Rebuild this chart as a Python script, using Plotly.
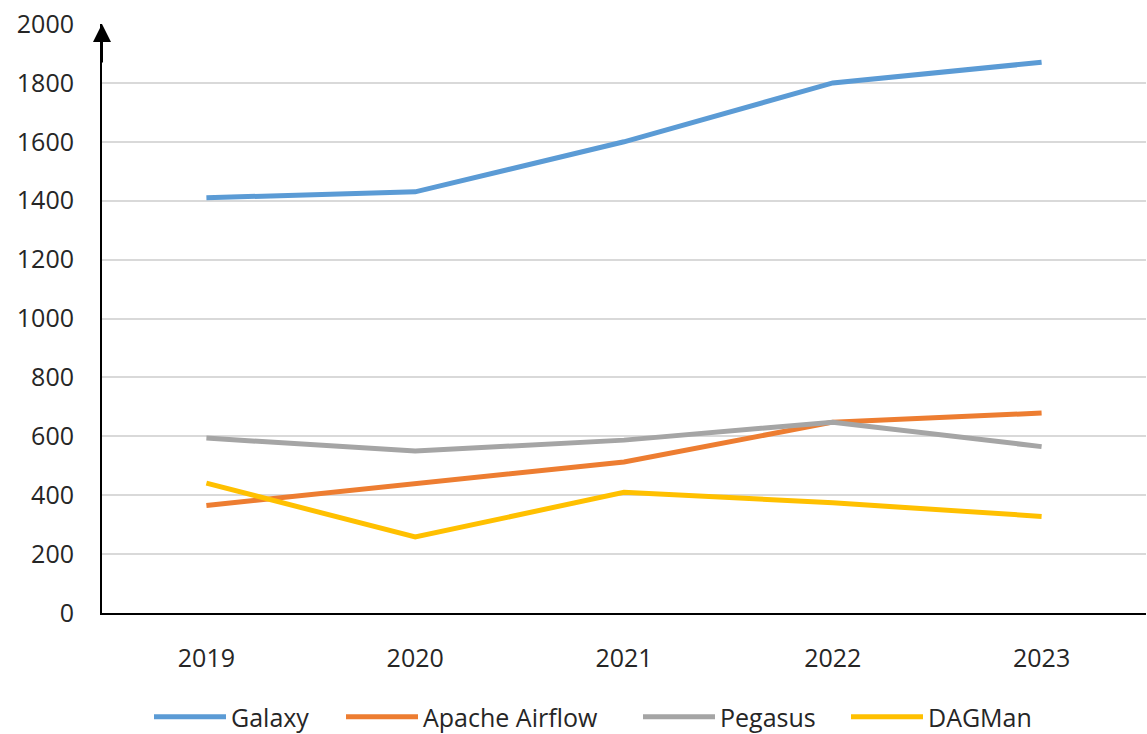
import plotly.graph_objects as go

years = ["2019", "2020", "2021", "2022", "2023"]
galaxy = [1410, 1430, 1600, 1800, 1870]
airflow = [365, 440, 513, 648, 679]
pegasus = [594, 550, 587, 648, 565]
dagman = [441, 258, 410, 374, 328]

series = [
    ("Galaxy", galaxy, "#5B9BD5"),
    ("Apache Airflow", airflow, "#ED7D31"),
    ("Pegasus", pegasus, "#A5A5A5"),
    ("DAGMan", dagman, "#FFC000"),
]
legend_starts = [153, 345, 642, 850]  # pixel x of each legend entry

font = "Open Sans, Liberation Sans, sans-serif"
fig = go.Figure()
legend_layouts = {}
for i, (name, vals, color) in enumerate(series):
    key = "legend" if i == 0 else f"legend{i + 1}"
    fig.add_trace(go.Scatter(x=years, y=vals, name=name, mode="lines",
                             line=dict(color=color, width=5), legend=key))
    legend_layouts[key] = dict(
        orientation="h", x=(legend_starts[i] - 4) / 1147, xanchor="left",
        y=1 - 717 / 734, yanchor="middle", xref="container", yref="container",
        font=dict(size=25, color="#262626"), itemwidth=72, bgcolor="rgba(0,0,0,0)")

fig.update_layout(
    width=1147, height=734,
    margin=dict(l=102, r=1, t=24, b=121, autoexpand=False),
    paper_bgcolor="white", plot_bgcolor="white",
    font=dict(family=font, size=25, color="#262626"),
    showlegend=True,
    xaxis=dict(type="category", range=[-0.5, 4.5], showgrid=False,
               showline=True, linecolor="black", linewidth=2, ticks="",
               ticklabelstandoff=22, tickfont=dict(size=25)),
    yaxis=dict(range=[0, 2000], dtick=200, showgrid=True, gridcolor="#D9D9D9", gridwidth=2,
               showline=True, linecolor="black", linewidth=2, ticks="", zeroline=False,
               ticklabelstandoff=21, tickfont=dict(size=25)),
    **legend_layouts,
)
fig.add_annotation(xref="paper", yref="y", x=0, y=2000, ax=0, ay=40, axref="pixel", ayref="pixel",
                   showarrow=True, arrowhead=2, arrowsize=1.8, arrowwidth=2, arrowcolor="black", text="")
fig.write_html("out.html")
